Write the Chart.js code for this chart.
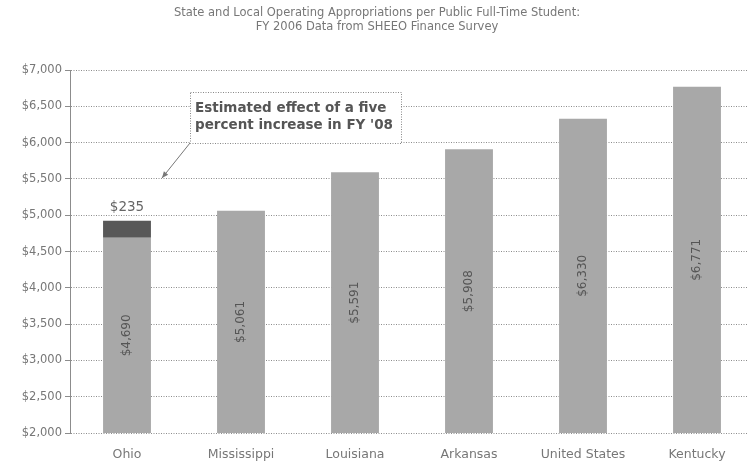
<!DOCTYPE html>
<html>
<head>
<meta charset="utf-8">
<script src="https://cdn.jsdelivr.net/npm/chart.js@4/dist/chart.umd.min.js"></script>
<style>
  html, body { margin: 0; padding: 0; background: #fff; overflow: hidden; }
  #wrap { width: 748px; height: 469px; overflow: hidden; }
</style>
</head>
<body>
<div id="wrap"><canvas id="c" width="754" height="469"></canvas></div>
<script>
// Appropriations per public full-time student, FY 2006
const states = ['Ohio', 'Mississippi', 'Louisiana', 'Arkansas', 'United States', 'Kentucky'];
const appropriations = [4690, 5061, 5591, 5908, 6330, 6771];
// Estimated effect of a five percent increase in FY '08 (Ohio only)
const increase = [235, null, null, null, null, null];
const yTicks = [2000, 2500, 3000, 3500, 4000, 4500, 5000, 5500, 6000, 6500, 7000];
const titleLines = [
  'State and Local Operating Appropriations per Public Full-Time Student:',
  'FY 2006 Data from SHEEO Finance Survey'
];
const noteLines = ['Estimated effect of a five', "percent increase in FY '08"];

const FONT = "'DejaVu Sans', Verdana, sans-serif";
const money = v => '$' + Number(v).toLocaleString('en-US');

// Value labels: rotated inside each base bar, horizontal above the increase segment
const valueLabels = {
  id: 'valueLabels',
  afterDatasetsDraw(chart) {
    const ctx = chart.ctx;
    const bottom = chart.chartArea.bottom;
    const base = chart.getDatasetMeta(0);
    ctx.save();
    ctx.font = '12px ' + FONT;
    ctx.fillStyle = '#555';
    ctx.textAlign = 'center';
    ctx.textBaseline = 'middle';
    base.data.forEach((bar, i) => {
      const cy = (bar.y + Math.min(bar.base, bottom)) / 2;
      ctx.save();
      ctx.translate(bar.x, cy);
      ctx.rotate(-Math.PI / 2);
      ctx.fillText(money(appropriations[i]), 0, 0);
      ctx.restore();
    });
    const top = chart.getDatasetMeta(1);
    top.data.forEach((bar, i) => {
      if (increase[i] == null) return;
      ctx.font = '13.5px ' + FONT;
      ctx.fillStyle = '#666';
      ctx.textBaseline = 'bottom';
      ctx.fillText(money(increase[i]), bar.x, bar.y - 6);
    });
    ctx.restore();
  }
};

// Callout box with a pointer toward the Ohio increase
const callout = {
  id: 'callout',
  afterDraw(chart) {
    const ctx = chart.ctx;
    const bx = 190, by = 92, bw = 211, bh = 51;
    ctx.save();
    ctx.fillStyle = '#fff';
    ctx.fillRect(bx, by, bw, bh);
    ctx.strokeStyle = '#888';
    ctx.lineWidth = 1;
    ctx.setLineDash([1, 1.5]);
    ctx.strokeRect(bx + 0.5, by + 0.5, bw, bh);
    ctx.setLineDash([]);
    ctx.font = 'bold 13.5px ' + FONT;
    ctx.fillStyle = '#555';
    ctx.textAlign = 'left';
    ctx.textBaseline = 'middle';
    ctx.fillText(noteLines[0], bx + 5, by + 16);
    ctx.fillText(noteLines[1], bx + 5, by + 33);
    // pointer
    const x0 = bx, y0 = by + bh, x1 = 162, y1 = 178;
    ctx.strokeStyle = '#777';
    ctx.beginPath();
    ctx.moveTo(x0, y0);
    ctx.lineTo(x1, y1);
    ctx.stroke();
    const ang = Math.atan2(y1 - y0, x1 - x0);
    ctx.fillStyle = '#777';
    ctx.beginPath();
    ctx.moveTo(x1, y1);
    ctx.lineTo(x1 - 7 * Math.cos(ang - 0.4), y1 - 7 * Math.sin(ang - 0.4));
    ctx.lineTo(x1 - 7 * Math.cos(ang + 0.4), y1 - 7 * Math.sin(ang + 0.4));
    ctx.closePath();
    ctx.fill();
    ctx.restore();
  }
};

new Chart(document.getElementById('c'), {
  type: 'bar',
  data: {
    labels: states,
    datasets: [
      {
        label: 'FY 2006',
        data: appropriations,
        backgroundColor: '#a8a8a8',
        borderWidth: 0,
        barPercentage: 0.42,
        categoryPercentage: 1.0
      },
      {
        label: 'Five percent increase',
        data: increase,
        backgroundColor: '#585858',
        borderWidth: 0,
        barPercentage: 0.42,
        categoryPercentage: 1.0
      }
    ]
  },
  options: {
    responsive: false,
    animation: false,
    devicePixelRatio: 1,
    layout: { padding: 0 },
    plugins: {
      legend: { display: false },
      tooltip: { enabled: false },
      title: {
        display: true,
        text: titleLines,
        color: '#777',
        font: { family: FONT, size: 11.5, weight: 'normal', lineHeight: 1.22 },
        padding: { top: 6, bottom: 36 }
      }
    },
    scales: {
      x: {
        stacked: true,
        grid: { display: false },
        border: { display: false },
        ticks: {
          color: '#777',
          font: { family: FONT, size: 12.5 },
          padding: 6,
          maxRotation: 0,
          autoSkip: false
        },
        afterFit(scale) { scale.height = 36; }
      },
      y: {
        stacked: true,
        min: yTicks[0],
        max: yTicks[yTicks.length - 1],
        afterBuildTicks(scale) { scale.ticks = yTicks.map(v => ({ value: v })); },
        grid: {
          color: '#8c8c8c',
          lineWidth: 1,
          tickLength: 5,
          drawTicks: true
        },
        border: { display: true, color: '#8c8c8c', dash: [1, 1.5] },
        ticks: {
          color: '#777',
          font: { family: FONT, size: 11.5 },
          padding: 3,
          callback: v => money(v)
        },
        afterFit(scale) { scale.width = 70; }
      }
    }
  },
  plugins: [valueLabels, callout, {
    id: 'dottedGrid',
    beforeDraw(chart) {
      chart.options.scales.y.grid.borderDash = [1, 1.5];
    }
  }]
});
</script>
</body>
</html>
